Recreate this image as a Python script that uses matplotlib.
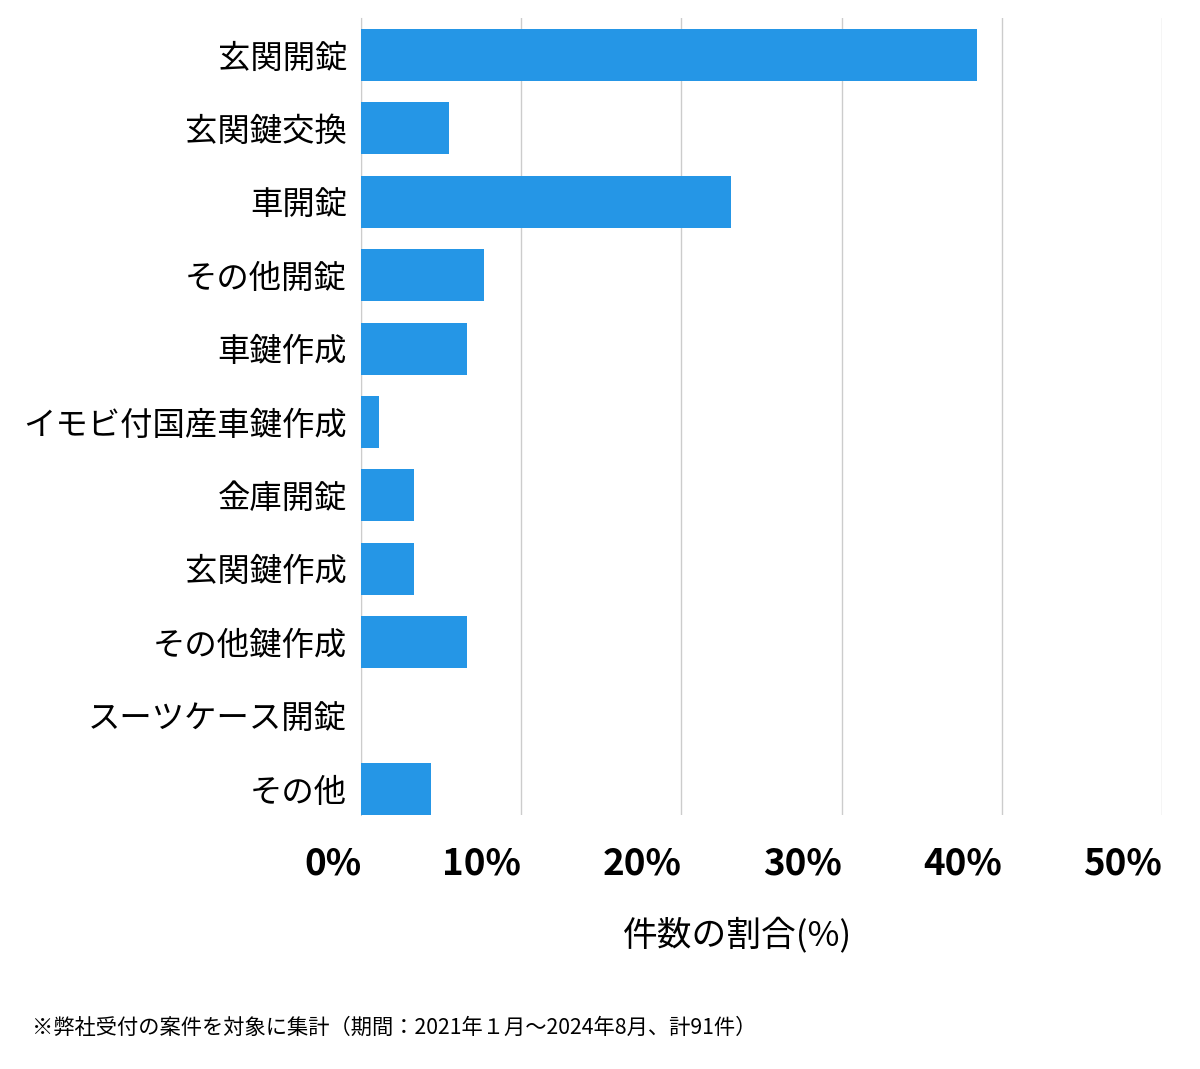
import matplotlib

matplotlib.use("Agg")
import matplotlib.pyplot as plt
from matplotlib import ticker

plt.rcParams["font.family"] = ["Noto Sans CJK JP", "DejaVu Sans"]

TOTAL_CASES = 91

categories = [
    "玄関開錠",
    "玄関鍵交換",
    "車開錠",
    "その他開錠",
    "車鍵作成",
    "イモビ付国産車鍵作成",
    "金庫開錠",
    "玄関鍵作成",
    "その他鍵作成",
    "スーツケース開錠",
    "その他",
]
case_counts = [35, 5, 21, 7, 6, 1, 3, 3, 6, 0, 4]
x_ticks = [0, 10, 20, 30, 40, 50]

BAR_COLOR = "#2596e6"


def percent_label(x: float, pos: float) -> str:
    return f"{x:.0f}%"


def main() -> None:
    shares = [100 * c / TOTAL_CASES for c in case_counts]
    positions = list(range(len(categories)))

    fig = plt.figure(figsize=(12, 10.69), dpi=100)
    ax = fig.add_axes([361 / 1200, 1 - 815 / 1069, 801 / 1200, 797 / 1069])

    ax.barh(positions, shares, height=0.71, color=BAR_COLOR, zorder=3)

    ax.set_xlim(0, 50)
    ax.set_ylim(10.354, -0.504)
    ax.set_xticks(x_ticks)
    ax.xaxis.set_major_formatter(ticker.FuncFormatter(percent_label))
    ax.set_yticks(positions)
    ax.set_yticklabels(categories, fontsize=23.3)

    for lbl in ax.get_xticklabels():
        lbl.set_horizontalalignment("right")
        lbl.set_fontweight("bold")
        lbl.set_fontsize(26.5)

    ax.tick_params(axis="x", length=0, pad=22)
    ax.tick_params(axis="y", length=0, pad=10)
    ax.grid(axis="x", color="#cccccc", linewidth=1, zorder=0)
    for side in ["top", "right", "bottom"]:
        ax.spines[side].set_visible(False)
    ax.spines["left"].set_color("#cccccc")

    fig.text(738 / 1200, 1 - 935 / 1069, "件数の割合(%)", ha="center", va="center", fontsize=25)
    fig.text(
        32 / 1200,
        1 - 1028 / 1069,
        "※弊社受付の案件を対象に集計（期間：2021年１月〜2024年8月、計91件）",
        ha="left",
        va="center",
        fontsize=15.3,
    )

    fig.savefig("out.png", dpi=100)


if __name__ == "__main__":
    main()
